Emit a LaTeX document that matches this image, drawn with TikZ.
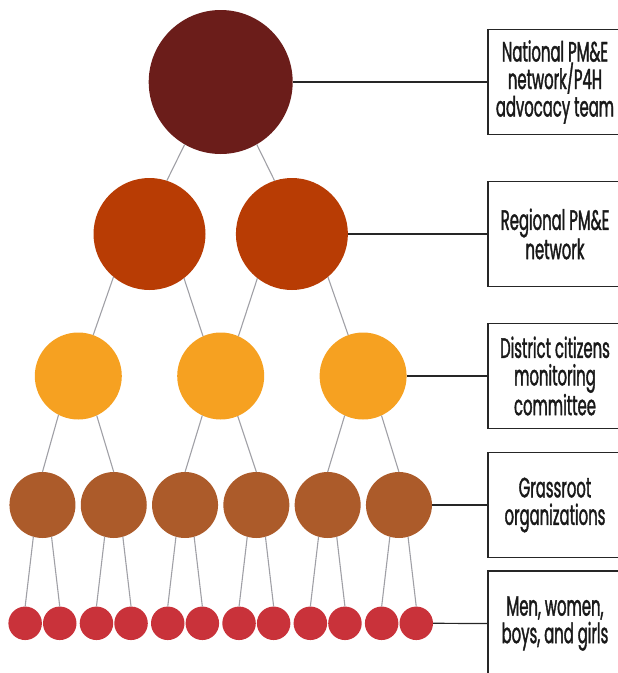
\documentclass[tikz,border=0pt]{standalone}
\usepackage{fontspec}
\setmainfont[FakeStretch=0.53,FakeBold=1.3]{Poppins}

\definecolor{national}{HTML}{6B1D1A}
\definecolor{regional}{HTML}{B83C04}
\definecolor{district}{HTML}{F6A121}
\definecolor{grassroot}{HTML}{AC5B2A}
\definecolor{people}{HTML}{C9323A}
\definecolor{linkgray}{HTML}{A0A0A6}

\begin{document}
\begin{tikzpicture}[x=1pt,y=-1pt,
        dot/.style={circle,inner sep=0pt,outer sep=0pt},
        link/.style={draw=linkgray,line width=1.1pt},
        tie/.style={draw=black!85,line width=1.2pt},
        levelbox/.style={draw=black!85,line width=1.3pt,minimum width=134pt,minimum height=105pt,
            align=center,text=black!90,font=\fontsize{28}{27.5}\selectfont}]
        \useasboundingbox (0,0) rectangle (618,673);

        \node[dot,fill=national,minimum size=144pt] (nat) at (220.7,82) {};

        \node[dot,fill=regional,minimum size=112pt] (reg1) at (149.5,234) {};
        \node[dot,fill=regional,minimum size=112pt] (reg2) at (291.9,234) {};

        \node[dot,fill=district,minimum size=87pt] (dist1) at (78.3,376) {};
        \node[dot,fill=district,minimum size=87pt] (dist2) at (220.7,376) {};
        \node[dot,fill=district,minimum size=87pt] (dist3) at (363.1,376) {};

        \foreach \i in {1,...,6} {
            \node[dot,fill=grassroot,minimum size=66pt] (grass\i) at ({220.7+(\i-3.5)*71.3},505) {};
            \node[dot,fill=people,minimum size=33.5pt] (ppl\i-l) at ({220.7+(\i-3.5)*71.3-17.3},623.3) {};
            \node[dot,fill=people,minimum size=33.5pt] (ppl\i-r) at ({220.7+(\i-3.5)*71.3+17.3},623.3) {};
            \draw[link] (grass\i.254) -- (ppl\i-l.north);
            \draw[link] (grass\i.286) -- (ppl\i-r.north);
        }

        \draw[link] (nat.240) -- (reg1.72);
        \draw[link] (nat.300) -- (reg2.108);

        \draw[link] (reg1.230) -- (dist1.70);
        \draw[link] (reg1.308) -- (dist2.114);
        \draw[link] (reg2.232) -- (dist2.66);
        \draw[link] (reg2.310) -- (dist3.110);

        \draw[link] (dist1.243) -- (grass1.north);
        \draw[link] (dist1.295) -- (grass2.north);
        \draw[link] (dist2.245) -- (grass3.north);
        \draw[link] (dist2.293) -- (grass4.north);
        \draw[link] (dist3.245) -- (grass5.north);
        \draw[link] (dist3.295) -- (grass6.north);

        \node[levelbox] (box1) at (555,82) {National PM\&E\\network/P4H\\advocacy team};
        \node[levelbox] (box2) at (555,234) {Regional PM\&E\\network};
        \node[levelbox] (box3) at (555,376) {District citizens\\monitoring\\committee};
        \node[levelbox] (box4) at (555,505) {Grassroot\\organizations};
        \node[levelbox] (box5) at (555,623.5) {Men, women,\\boys, and girls};

        \draw[tie] (nat.east) -- (box1.west);
        \draw[tie] (reg2.east) -- (box2.west);
        \draw[tie] (dist3.east) -- (box3.west);
        \draw[tie] (grass6.east) -- (box4.west);
        \draw[tie] (ppl6-r.east) -- (box5.west);

    \end{tikzpicture}
\end{document}
